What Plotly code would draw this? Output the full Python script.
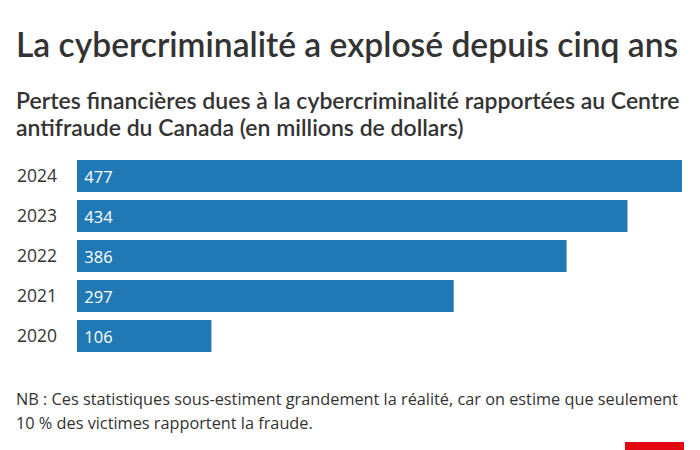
import plotly.graph_objects as go

years = ["2020", "2021", "2022", "2023", "2024"]
losses = [106, 297, 386, 434, 477]

title = "La cybercriminalité a explosé depuis cinq ans"
subtitle_lines = ["Pertes financières dues à la cybercriminalité rapportées au Centre",
                  "antifraude du Canada (en millions de dollars)"]
note_lines = ["NB : Ces statistiques sous-estiment grandement la réalité, car on estime que seulement",
              "10 % des victimes rapportent la fraude."]

BAR = "#2079b5"
TXT = "#333333"

fig = go.Figure(go.Bar(
    x=losses, y=years, orientation="h",
    marker=dict(color=BAR, line=dict(width=0)),
    text=losses, texttemplate="\u00a0%{x}", textposition="inside", insidetextanchor="start",
    textfont=dict(family="Open Sans", size=16.5, color="white"),
    cliponaxis=False,
    hoverinfo="skip",
))

L, R, T, B = 77, 18, 156, 94
pw, ph = 700 - L - R, 450 - T - B
def px(xp): return (xp - L) / pw
def py(yp): return (450 - B - yp) / ph

fig.update_layout(
    width=700, height=450,
    margin=dict(l=L, r=R, t=T, b=B, autoexpand=False),
    paper_bgcolor="white", plot_bgcolor="white",
    bargap=0.2,
    showlegend=False,
    uniformtext=dict(minsize=16, mode="show"),
    xaxis=dict(range=[0, 477], visible=False, fixedrange=True, automargin=False),
    yaxis=dict(type="category", categoryorder="array", categoryarray=years, range=[-0.5, 4.5],
               showgrid=False, zeroline=False, showline=False, ticks="", ticklabelstandoff=19,
               automargin=False, tickfont=dict(family="Open Sans", size=17.5, color=TXT),
               fixedrange=True),
)

def add_text(text, x, y, size, family, weight=None):
    fig.add_annotation(
        text=text, x=px(x), y=py(y), xref="paper", yref="paper", showarrow=False,
        xanchor="left", yanchor="middle", align="left", borderpad=0,
        font=dict(family=family, size=size, color=TXT, weight=weight),
    )

add_text(title, 15, 44, 33.6, "Lato", weight=600)
add_text(subtitle_lines[0], 15, 100, 23, "Lato", weight=600)
add_text(subtitle_lines[1], 15, 127, 23, "Lato", weight=600)
add_text(note_lines[0], 15, 399, 16.3, "Open Sans")
add_text(note_lines[1], 15, 423, 16.3, "Open Sans")

fig.add_shape(type="rect", xref="paper", yref="paper",
              x0=px(625), x1=px(684), y0=py(442), y1=py(452),
              fillcolor="#e30613", line=dict(width=0))

fig.write_html("out.html", config={"displayModeBar": False},
               post_script="document.body.style.margin='0';")
